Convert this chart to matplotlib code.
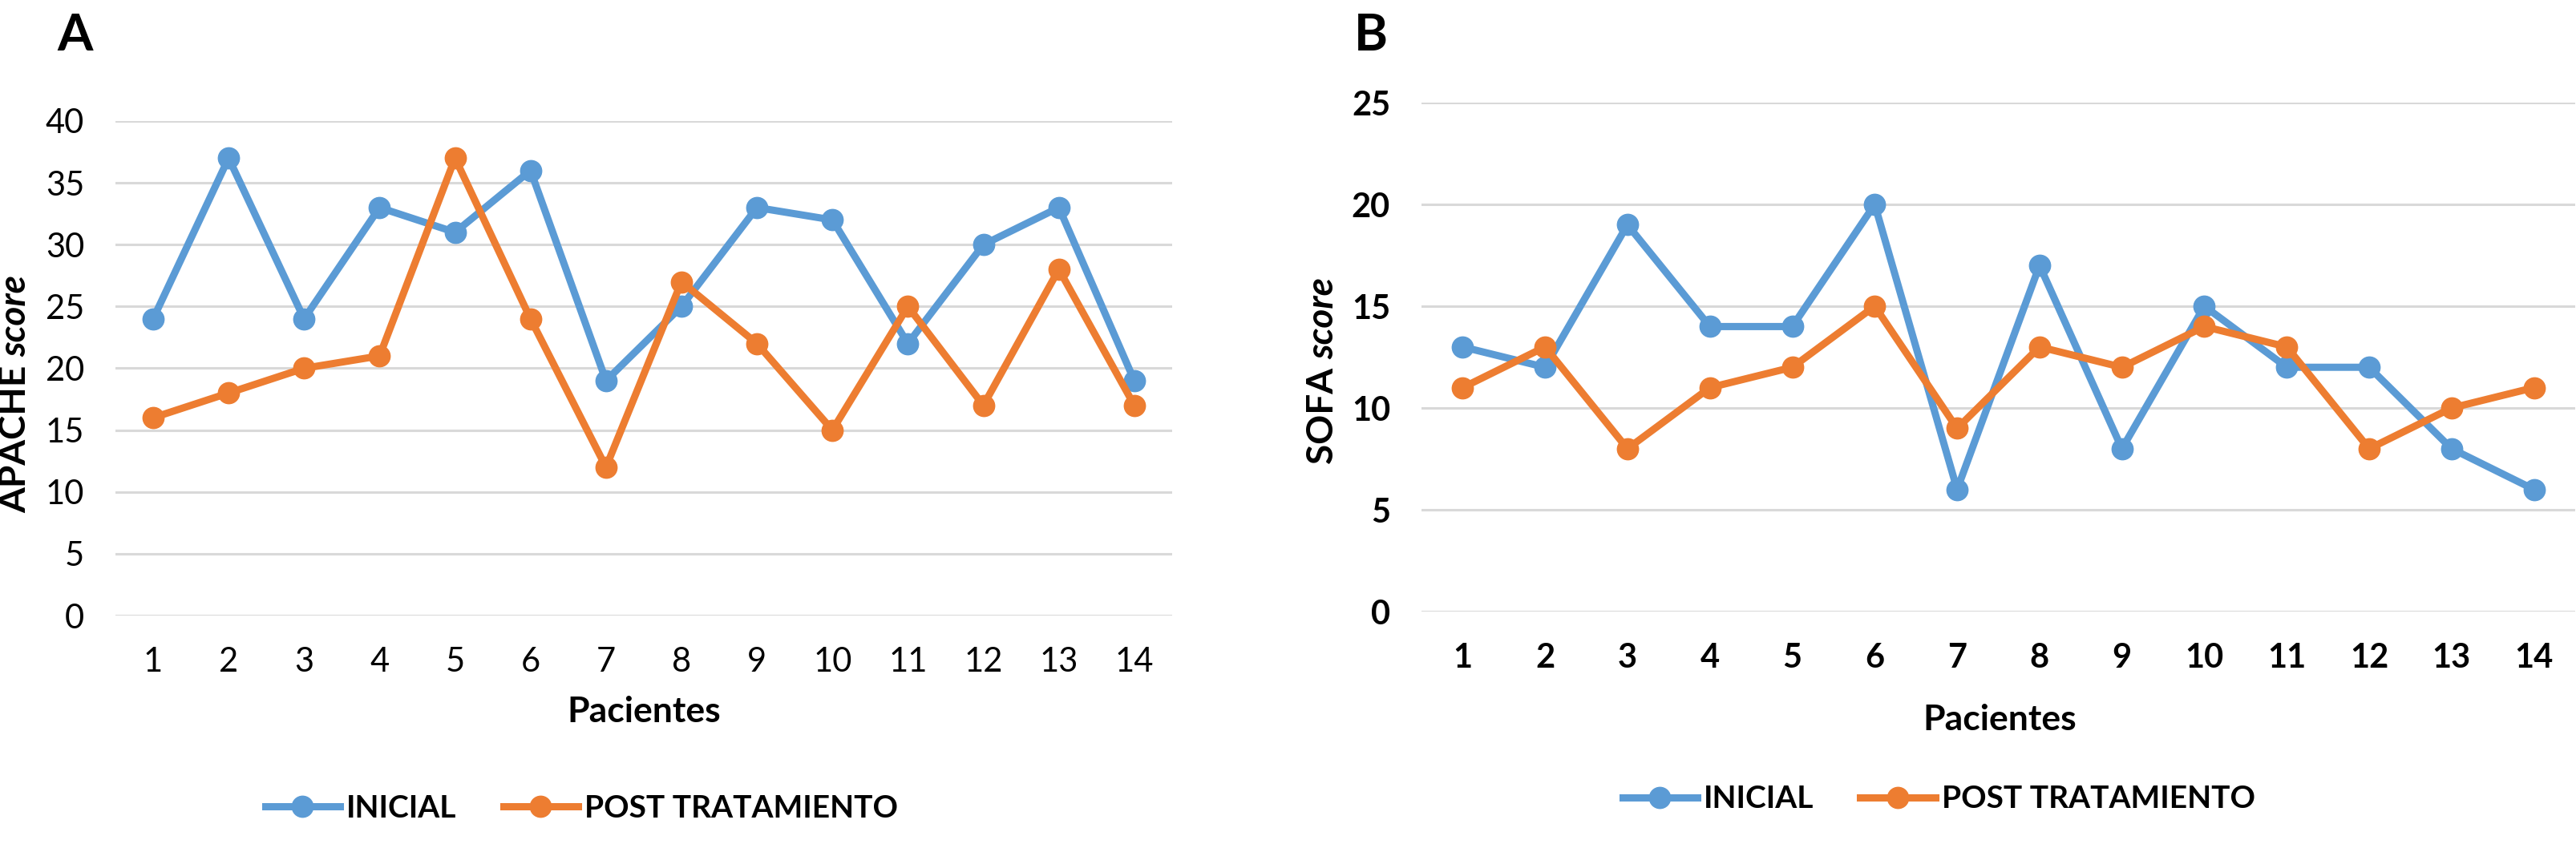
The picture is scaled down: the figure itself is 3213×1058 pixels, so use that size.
import matplotlib
matplotlib.use("Agg")
import matplotlib.pyplot as plt

# Data
pacientes = list(range(1, 15))
apache_inicial = [24, 37, 24, 33, 31, 36, 19, 25, 33, 32, 22, 30, 33, 19]
apache_post = [16, 18, 20, 21, 37, 24, 12, 27, 22, 15, 25, 17, 28, 17]
sofa_inicial = [13, 12, 19, 14, 14, 20, 6, 17, 8, 15, 12, 12, 8, 6]
sofa_post = [11, 13, 8, 11, 12, 15, 9, 13, 12, 14, 13, 8, 10, 11]
series_names = ["INICIAL", "POST TRATAMIENTO"]

BLUE = "#5B9BD5"
ORANGE = "#ED7D31"
GRID = "#D9D9D9"

plt.rcParams['font.family'] = ['Lato', 'DejaVu Sans']

fig = plt.figure(figsize=(32.13, 10.58), dpi=100)

ax_a = fig.add_axes([0.0448, 0.2741, 0.4102, 0.5832])
ax_b = fig.add_axes([0.5518, 0.2788, 0.4479, 0.6002])


def style_axis(ax, ymax, bold_ticks):
    ax.set_xlim(0.5, 14.5)
    ax.set_ylim(0, ymax)
    ax.set_yticks(range(0, ymax + 1, 5))
    ax.set_xticks(pacientes)
    for s in ax.spines.values():
        s.set_visible(False)
    ax.grid(axis='y', color=GRID, linewidth=2.2)
    ax.set_axisbelow(True)
    ax.tick_params(length=0, labelsize=30)
    ax.tick_params(axis='y', pad=28)
    ax.tick_params(axis='x', pad=28)
    w = 'bold' if bold_ticks else 'normal'
    for lab in ax.get_xticklabels() + ax.get_yticklabels():
        lab.set_fontweight(w)


def draw(ax, ini, post):
    l1, = ax.plot(pacientes, ini, color=BLUE, lw=6.5, marker='o', ms=19, clip_on=False)
    l2, = ax.plot(pacientes, post, color=ORANGE, lw=6.5, marker='o', ms=19, clip_on=False)
    return l1, l2


def ylabel_parts(x_px, join_px, word):
    # rotated "WORD score" label, the second word in italics
    x = x_px / 3213
    y = 1 - join_px / 1058
    fig.text(x, y, word + " ", rotation=90, rotation_mode='anchor', ha='right',
             va='center', fontsize=33, fontweight='bold')
    fig.text(x, y, "score", rotation=90, rotation_mode='anchor', ha='left',
             va='center', fontsize=33, fontweight='bold', style='italic')


# Panel A
h_a = draw(ax_a, apache_inicial, apache_post)
style_axis(ax_a, 40, False)
ax_a.set_xlabel("Pacientes", fontsize=32, fontweight='bold', va='center')
ax_a.xaxis.set_label_coords(0.5, -0.194)
ylabel_parts(19, 445, "APACHE")
fig.text(0.0221, 0.985, "A", fontsize=46, fontweight='bold', va='top', ha='left')
fig.legend(h_a, series_names, loc='center', bbox_to_anchor=(0.2257, 0.047),
           ncol=2, frameon=False, handlelength=2.4, handletextpad=0.2,
           columnspacing=1.5, prop={'weight': 'bold', 'size': 28})

# Panel B
h_b = draw(ax_b, sofa_inicial, sofa_post)
style_axis(ax_b, 25, True)
ax_b.set_xlabel("Pacientes", fontsize=32, fontweight='bold', va='center')
ax_b.xaxis.set_label_coords(0.501, -0.2126)
ylabel_parts(1650, 448, "SOFA")
fig.text(0.5257, 0.985, "B", fontsize=46, fontweight='bold', va='top', ha='left')
fig.legend(h_b, series_names, loc='center', bbox_to_anchor=(0.7526, 0.0577),
           ncol=2, frameon=False, handlelength=2.4, handletextpad=0.2,
           columnspacing=1.5, prop={'weight': 'bold', 'size': 28})

fig.savefig("out.png", dpi=100)
